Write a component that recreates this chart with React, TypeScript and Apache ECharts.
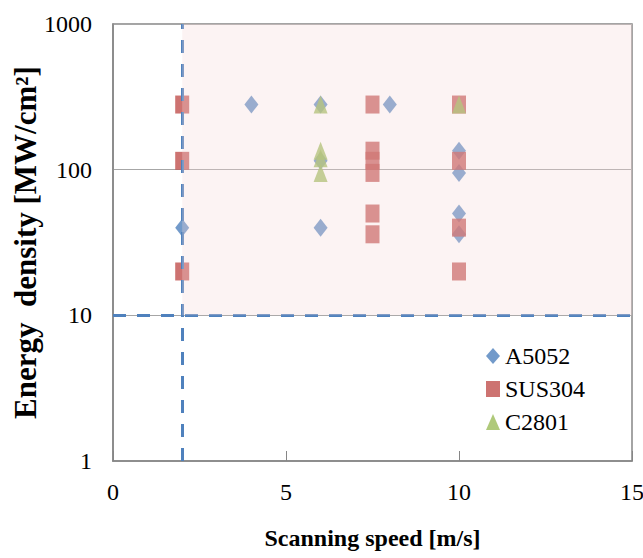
import React, { useEffect, useRef } from "react";
import * as echarts from "echarts";

const a5052Speed = [2, 4, 6, 6, 6, 8, 10, 10, 10, 10];
const a5052Density = [40, 280, 280, 115, 40, 280, 135, 95, 50, 36];
const sus304Speed = [2, 2, 2, 7.5, 7.5, 7.5, 7.5, 7.5, 7.5, 10, 10, 10, 10];
const sus304Density = [280, 115, 20, 280, 135, 115, 95, 50, 36, 280, 115, 40, 20];
const c2801Speed = [6, 6, 6, 6, 10];
const c2801Density = [280, 135, 120, 95, 280];
const speedLimit = 2;
const densityLimit = 10;

const zip = (xs: number[], ys: number[]) => xs.map((x, i) => [x, ys[i]]);

const FONT = "Liberation Serif";

export default function App() {
  const ref = useRef<HTMLDivElement>(null);
  useEffect(() => {
    if (!ref.current) return;
    const chart = echarts.init(ref.current, undefined, { renderer: "svg" });
    const sz: [number, number] = [14, 18];
    chart.setOption({
      animation: false,
      backgroundColor: "#ffffff",
      textStyle: { fontFamily: FONT },
      grid: {
        left: 113,
        right: 11,
        top: 24,
        bottom: 97,
        show: true,
        borderColor: "#868686",
        borderWidth: 1.5,
        containLabel: false,
        outerBoundsMode: "none",
      },
      legend: {
        orient: "vertical",
        left: 481,
        top: 339,
        itemWidth: 14,
        itemHeight: 16,
        itemGap: 9,
        textStyle: { fontSize: 24, fontFamily: FONT, color: "#000" },
        data: ["A5052", "SUS304", "C2801"],
      },
      xAxis: {
        type: "value",
        min: 0,
        max: 15,
        interval: 5,
        name: "Scanning speed [m/s]",
        nameLocation: "middle",
        nameGap: 65,
        nameMoveOverlap: false,
        nameTextStyle: { fontSize: 24, fontWeight: "bold", fontFamily: FONT, color: "#000" },
        axisLine: { show: true, lineStyle: { color: "#868686", width: 1.5 } },
        axisTick: { show: true, inside: true, length: 10, lineStyle: { color: "#868686" } },
        axisLabel: { fontSize: 24, fontFamily: FONT, color: "#000", margin: 19 },
        splitLine: { show: false },
      },
      yAxis: {
        type: "log",
        logBase: 10,
        min: 1,
        max: 1000,
        name: "Energy  density [MW/cm²]",
        nameLocation: "middle",
        nameGap: 72,
        nameMoveOverlap: false,
        nameTextStyle: { fontSize: 31, fontWeight: "bold", fontFamily: FONT, color: "#000" },
        axisLine: { show: true, lineStyle: { color: "#868686", width: 1.5 } },
        axisTick: { show: false },
        axisLabel: {
          fontSize: 24,
          fontFamily: FONT,
          color: "#000",
          margin: 21,
          formatter: (v: number) => String(Math.round(v)),
        },
        splitLine: { show: true, lineStyle: { color: "#a6a6a6", width: 1 } },
      },
      series: [
        {
          name: "A5052",
          type: "scatter",
          symbol: "diamond",
          symbolSize: sz,
          itemStyle: { color: "#4f81bd" },
          data: zip(a5052Speed, a5052Density),
        },
        {
          name: "SUS304",
          type: "scatter",
          symbol: "rect",
          symbolSize: sz,
          itemStyle: { color: "#c0504d" },
          data: zip(sus304Speed, sus304Density),
        },
        {
          name: "C2801",
          type: "scatter",
          symbol: "triangle",
          symbolSize: sz,
          itemStyle: { color: "#9bbb59" },
          data: zip(c2801Speed, c2801Density),
          markLine: {
            z: 5,
            silent: true,
            symbol: ["none", "none"],
            label: { show: false },
            lineStyle: { color: "#4f81bd", width: 3, type: [13, 11] },
            data: [{ xAxis: speedLimit }, { yAxis: densityLimit }],
          },
          markArea: {
            z: 6,
            silent: true,
            itemStyle: { color: "rgba(246, 214, 214, 0.3)" },
            data: [[{ xAxis: speedLimit, yAxis: densityLimit }, { xAxis: 15, yAxis: 1000 }]],
          },
        },
      ],
    });
    return () => chart.dispose();
  }, []);
  return (
    <div
      ref={ref}
      style={{ position: "fixed", left: 0, top: 0, width: 643, height: 558, background: "#fff" }}
    />
  );
}
